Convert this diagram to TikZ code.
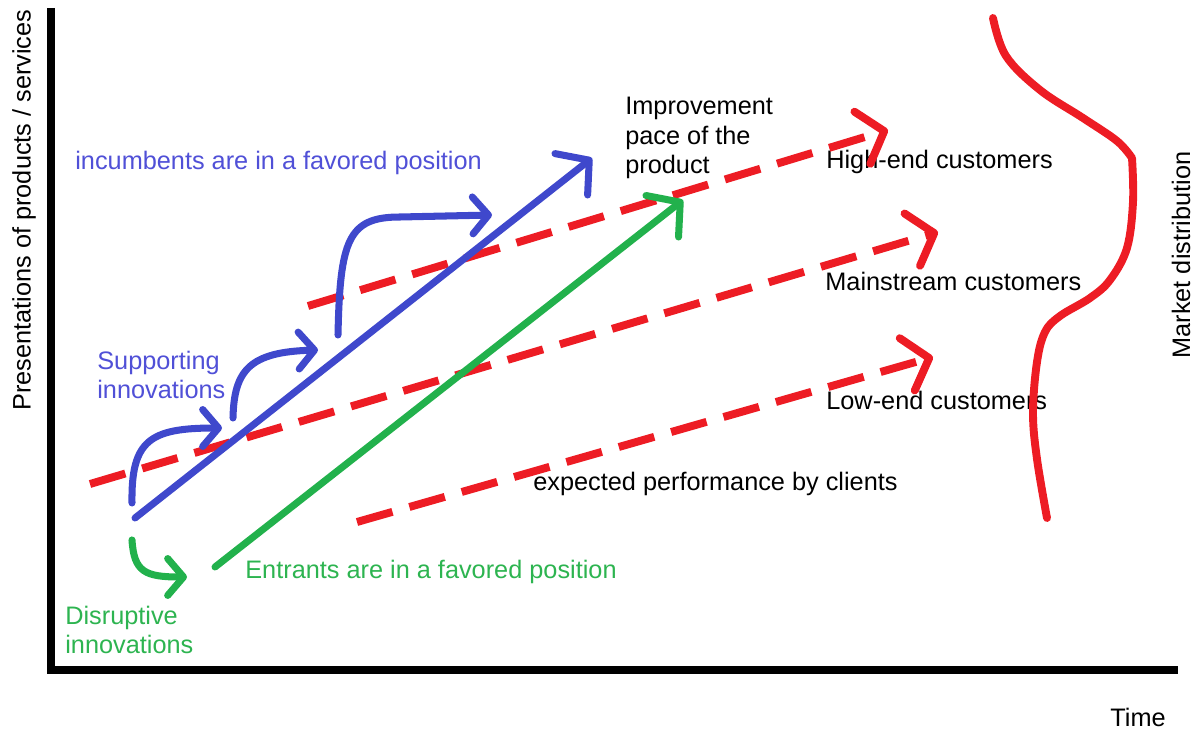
\documentclass[tikz,border=0pt]{standalone}
\usepackage{fontspec}
\setmainfont{Liberation Sans}
\usepackage{tikz}
\usetikzlibrary{arrows.meta}
\definecolor{paintred}{RGB}{237,28,36}
\definecolor{paintblue}{RGB}{63,72,204}
\definecolor{paintgreen}{RGB}{34,177,76}
\definecolor{textblue}{RGB}{80,80,215}
\definecolor{textgreen}{RGB}{45,180,80}
\begin{document}
\begin{tikzpicture}[x=0.02cm, y=-0.02cm,
  lbl/.style={inner sep=0pt, anchor=west, align=left, font=\fontsize{14.4}{16.6}\selectfont},
  axisline/.style={line width=4.5pt, black, line join=miter},
  expected/.style={paintred, line width=4.5pt, dash pattern=on 21pt off 10pt, -{Straight Barb[length=13pt,width=31pt,round]}},
  pace/.style={line width=4pt, line cap=round, -{Straight Barb[length=13pt,width=30pt,round]}},
  hop/.style={line width=4pt, line cap=round, -{Straight Barb[length=9pt,width=21pt,round]}},
  market/.style={paintred, line width=4.5pt, line cap=round, line join=round},
]
  \useasboundingbox (0,0) rectangle (1201,729);
  \coordinate (ytop) at (51,8);
  \coordinate (origin) at (51,670);
  \coordinate (xend) at (1178,670);
  \draw[axisline] (ytop) -- (origin) -- (xend);
  \node[lbl, anchor=center, rotate=90] (ylabel) at (24,210) {Presentations of products / services};
  \node[lbl] (xlabel) at (1110,717) {Time};
  \node[lbl, anchor=center, rotate=90] (mlabel) at (1181,255) {Market distribution};
  \node[lbl, textblue] (incumbents) at (75,163) {incumbents are in a favored position};
  \node[lbl, textblue] (supporting) at (97,375) {Supporting\\innovations};
  \node[lbl, textgreen] (disruptive) at (65,630) {Disruptive\\innovations};
  \node[lbl, textgreen] (entrants) at (245,572) {Entrants are in a favored position};
  \node[lbl] (pace) at (625,138) {Improvement\\pace of the\\product};
  \node[lbl] (highend) at (826,162) {High-end customers};
  \node[lbl] (mainstream) at (825,281) {Mainstream customers};
  \node[lbl] (lowend) at (826,400) {Low-end customers};
  \node[lbl] (clients) at (533,484) {expected performance by clients};
  \coordinate (high-a) at (308,306);
  \coordinate (high-b) at (888,130);
  \coordinate (main-a) at (90,484);
  \coordinate (main-b) at (938,232);
  \coordinate (low-a) at (357,522);
  \coordinate (low-b) at (933,357);
  \draw[expected] (high-a) -- (high-b);
  \draw[expected] (main-a) -- (main-b);
  \draw[expected] (low-a) -- (low-b);
  \draw[market] plot[smooth, tension=0.6] coordinates {(993,18) (1006,56) (1040,90) (1083,118) (1117,141) (1132,158)}
    plot[smooth, tension=0.6] coordinates {(1132,158) (1133,202) (1127,248) (1110,280) (1090,298) (1060,316) (1045,332) (1037,362) (1033,413) (1037,459) (1047,518)};
  \coordinate (inc-a) at (135,518);
  \coordinate (inc-b) at (592,158);
  \draw[pace, paintblue] (inc-a) -- (inc-b);
  \coordinate (hop1-a) at (132,503);
  \coordinate (hop1-b) at (222,428);
  \coordinate (hop2-a) at (233,418);
  \coordinate (hop2-b) at (318,350);
  \coordinate (hop3-a) at (338,335);
  \coordinate (hop3-b) at (492,215);
  \draw[hop, paintblue] (hop1-a) .. controls (131,440) and (150,428) .. (hop1-b);
  \draw[hop, paintblue] (hop2-a) .. controls (234,370) and (250,352) .. (hop2-b);
  \draw[hop, paintblue, line join=round] (hop3-a) .. controls (340,240) and (348,217) .. (400,217) -- (hop3-b);
  \coordinate (ent-a) at (215,567);
  \coordinate (ent-b) at (683,200);
  \coordinate (dis-a) at (132,540);
  \coordinate (dis-b) at (187,577);
  \draw[hop, paintgreen] (dis-a) .. controls (134,572) and (145,577) .. (dis-b);
  \draw[pace, paintgreen] (ent-a) -- (ent-b);
\end{tikzpicture}
\end{document}
